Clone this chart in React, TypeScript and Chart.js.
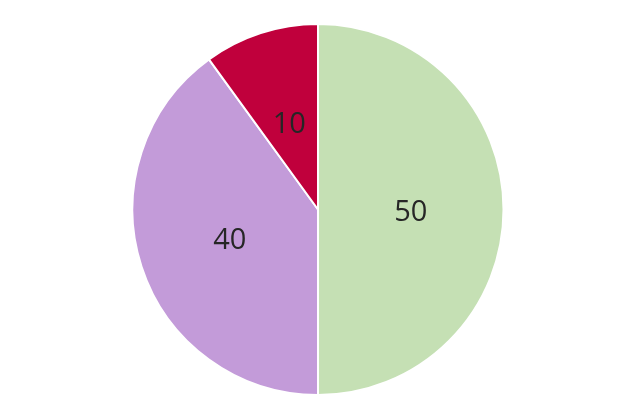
import React, { useEffect, useRef } from "react";
import { Chart, registerables } from "chart.js";

Chart.register(...registerables);

const categories = ["A", "B", "C"];
const values = [50, 40, 10];
const colors = ["#C5E0B4", "#C39BD9", "#C0003C"];

const labelPlugin = {
  id: "sliceLabels",
  afterDatasetsDraw(chart: any) {
    const ctx = chart.ctx;
    const meta = chart.getDatasetMeta(0);
    ctx.save();
    ctx.font = "29px 'Open Sans', 'Noto Sans', sans-serif";
    ctx.fillStyle = "#262626";
    ctx.textAlign = "center";
    ctx.textBaseline = "middle";
    meta.data.forEach((el: any, i: number) => {
      const p = el.tooltipPosition();
      ctx.fillText(String(values[i]), p.x, p.y + 3);
    });
    ctx.restore();
  },
};

export default function App() {
  const ref = useRef<HTMLCanvasElement>(null);
  useEffect(() => {
    document.body.style.margin = "0";
    const chart = new Chart(ref.current!, {
      type: "pie",
      data: {
        labels: categories,
        datasets: [
          {
            data: values,
            backgroundColor: colors,
            borderColor: "#FFFFFF",
            borderWidth: 2,
          },
        ],
      },
      options: {
        animation: false,
        responsive: false,
        layout: { padding: { top: 23, bottom: 20, left: 5, right: 0 } },
        plugins: {
          legend: { display: false },
          tooltip: { enabled: false },
        },
      },
      plugins: [labelPlugin],
    });
    return () => chart.destroy();
  }, []);
  return (
    <div style={{ width: 631, height: 416 }}>
      <canvas ref={ref} width={631} height={416} style={{ width: 631, height: 416 }} />
    </div>
  );
}
